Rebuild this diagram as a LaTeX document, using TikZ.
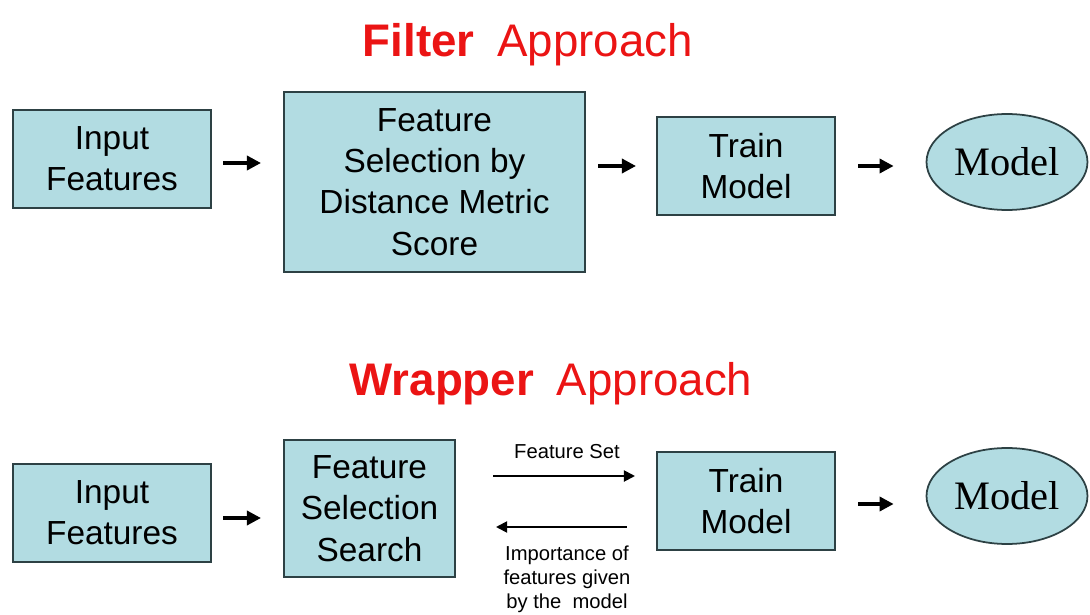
\documentclass[tikz,border=0pt]{standalone}
\usepackage{fontspec}
\setmainfont{Liberation Sans}
\newfontfamily\modelfont{Liberation Serif}
\usetikzlibrary{positioning,shapes.geometric,arrows.meta}
\definecolor{boxblue}{RGB}{178,220,226}
\definecolor{boxline}{RGB}{45,65,68}
\definecolor{titlered}{RGB}{235,20,20}

\begin{document}
\begin{tikzpicture}[x=0.02cm,y=-0.02cm]
                \tikzset{stage/.style={draw=boxline, line width=1.2pt, fill=boxblue, align=center, inner sep=0pt, font=\fontsize{19}{23.5}\selectfont},
                         result/.style={draw=boxline, line width=1pt, fill=boxblue, shape=ellipse, minimum width=3.22cm, minimum height=1.92cm, inner sep=0pt, font=\modelfont\fontsize{23}{27}\selectfont},
                         heading/.style={text=titlered, anchor=base, font=\fontsize{26}{30}\selectfont},
                         flow/.style={-{Triangle[length=0.28cm, width=0.28cm]}, line width=1.9pt},
                         loopflow/.style={-{Triangle[length=0.22cm, width=0.22cm]}, line width=1.1pt},
                         note/.style={align=center, font=\fontsize{11.5}{13.6}\selectfont}}
                \useasboundingbox (0,0) rectangle (1090,615);
                % filter approach
                \node[heading] (filtertitle) at (528,57) {\textbf{Filter}\hspace{0.5em}Approach};
                \node[stage, minimum width=3.96cm, minimum height=1.96cm] (in1) at (112,159) {Input\\Features};
                \node[stage, minimum width=6.02cm, minimum height=3.6cm] (fs1) at (434.5,182) {Feature\\Selection by\\Distance Metric\\Score};
                \node[stage, minimum width=3.56cm, minimum height=1.96cm] (tm1) at (746,166) {Train\\Model};
                \node[result] (mo1) at (1007,162) {Model};
                \draw[flow, shorten <=0.22cm, shorten >=0.44cm] ([yshift=-0.08cm]in1.east) -- ([yshift=-0.08cm]in1.east -| fs1.west);
                \draw[flow, shorten <=0.24cm, shorten >=0.4cm] (fs1.east |- tm1.west) -- (tm1.west);
                \draw[flow, shorten <=0.44cm, shorten >=0.64cm] (tm1.east) -- (tm1.east -| mo1.west);
                % wrapper approach
                \node[heading] (wrappertitle) at (551,396) {\textbf{Wrapper}\hspace{0.5em}Approach};
                \node[stage, minimum width=3.96cm, minimum height=1.96cm] (in2) at (112,513) {Input\\Features};
                \node[stage, minimum width=3.42cm, minimum height=2.74cm] (fs2) at (369.5,508.5) {Feature\\Selection\\Search};
                \node[stage, minimum width=3.56cm, minimum height=1.96cm] (tm2) at (746,501) {Train\\Model};
                \node[result] (mo2) at (1007,496) {Model};
                \node[note] (fset) at (567,452) {Feature Set};
                \node[note] (imp) at (567,579) {Importance of\\features given\\by the\ \ model};
                \draw[flow, shorten <=0.22cm, shorten >=0.44cm] ([yshift=-0.1cm]in2.east) -- ([yshift=-0.1cm]in2.east -| fs2.west);
                \draw[loopflow, shorten <=0.74cm, shorten >=0.42cm] ([yshift=0.65cm]fs2.east) -- ([yshift=0.65cm]fs2.east -| tm2.west);
                \draw[loopflow, shorten <=0.58cm, shorten >=0.8cm] ([yshift=-0.37cm]fs2.east -| tm2.west) -- ([yshift=-0.37cm]fs2.east);
                \draw[flow, shorten <=0.44cm, shorten >=0.64cm] ([yshift=-0.06cm]tm2.east) -- ([yshift=-0.06cm]tm2.east -| mo2.west);
\end{tikzpicture}
\end{document}
